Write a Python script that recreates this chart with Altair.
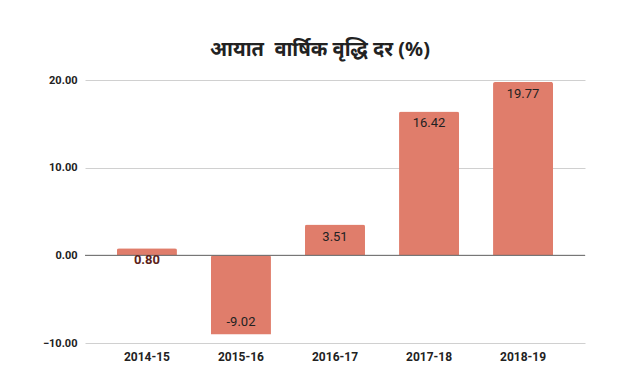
import altair as alt
import pandas as pd

years = ["2014-15", "2015-16", "2016-17", "2017-18", "2018-19"]
growth = [0.80, -9.02, 3.51, 16.42, 19.77]
labels = ["0.80", "-9.02", "3.51", "16.42", "19.77"]
title_text = "आयात\u00a0 वार्षिक वृद्धि दर (%)"

df = pd.DataFrame({"year": years, "value": growth, "label": labels})

BAR = "#E07D6B"

x = alt.X("year:N", sort=years, title=None,
          scale=alt.Scale(paddingInner=0.362, paddingOuter=0.34),
          axis=alt.Axis(labelAngle=0, ticks=False, domain=False, labelPadding=8,
                        labelFont="Roboto", labelFontWeight="bold", labelFontSize=12,
                        labelColor="#222222"))
y = alt.Y("value:Q", title=None,
          scale=alt.Scale(domain=[-10, 20], nice=False, zero=False),
          axis=alt.Axis(values=[-10, 0, 10, 20], format=".2f", ticks=False, domain=False,
                        labelFont="Roboto", labelFontWeight="bold", labelFontSize=11,
                        labelColor="#222222", labelPadding=8,
                        gridColor="#d0d0d0", gridWidth=1))

base = alt.Chart(df)

bars = base.mark_bar(color=BAR, cornerRadiusEnd=2).encode(x=x, y=y)

zero = alt.Chart(pd.DataFrame({"z": [0]})).mark_rule(color="#666666", strokeWidth=1).encode(y="z:Q")

pos_text = base.transform_filter("datum.value >= 1").mark_text(
    baseline="middle", dy=12, font="Roboto", fontSize=13, color="#222222"
).encode(x=alt.X("year:N", sort=years), y="value:Q", text="label:N")

small_text = base.transform_filter("datum.value >= 0 && datum.value < 1").mark_text(
    baseline="middle", dy=12, font="Roboto", fontSize=13, fontWeight="bold", color="#5b2219"
).encode(x=alt.X("year:N", sort=years), y="value:Q", text="label:N")

neg_text = base.transform_filter("datum.value < 0").mark_text(
    baseline="middle", dy=-12, font="Roboto", fontSize=13, color="#222222"
).encode(x=alt.X("year:N", sort=years), y="value:Q", text="label:N")

chart = alt.layer(bars, zero, pos_text, small_text, neg_text).properties(
    width=500, height=263,
    title=alt.TitleParams(title_text, fontSize=20, fontWeight="bold", color="#222222",
                          anchor="middle", offset=14, dx=-15, font="Noto Sans"),
    autosize=alt.AutoSizeParams(type="none"),
    padding={"left": 77, "top": 72, "right": 47, "bottom": 20},
).configure_view(stroke=None)

chart.save("out.html", embed_options={"renderer": "svg", "actions": False})
